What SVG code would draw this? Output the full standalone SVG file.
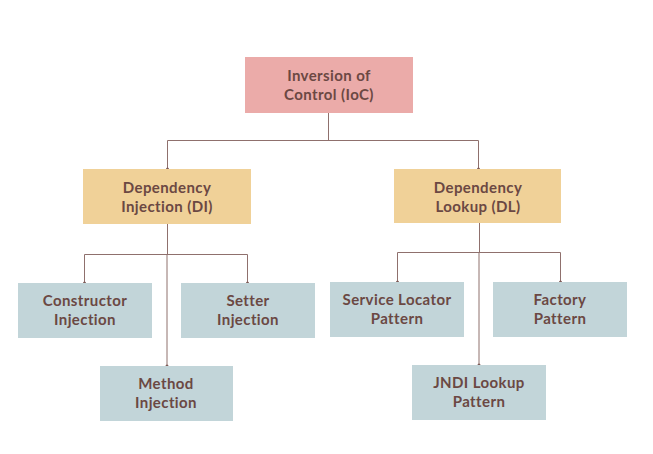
<svg xmlns="http://www.w3.org/2000/svg" width="653" height="454" viewBox="0 0 653 454">
<defs>
<marker id="dot" viewBox="0 0 4 4" refX="2" refY="2" markerWidth="4" markerHeight="4" markerUnits="userSpaceOnUse"><circle cx="2" cy="2" r="1.5" fill="#7d5a56"/></marker>
<style>
.lbl{font-family:Lato,"Open Sans",sans-serif;font-weight:bold;font-size:15px;letter-spacing:0.4px;fill:#6b4843;text-anchor:middle}
.root{fill:#ebaba9}
.mid{fill:#f0d198}
.leaf{fill:#c2d5d9}
.con{fill:none;stroke:#8f706d;stroke-width:1;marker-end:url(#dot)}
.seg{fill:none;stroke:#8f706d;stroke-width:1}
</style>
</defs>
<rect width="653" height="454" fill="#ffffff"/>
<g id="connectors">
<path class="seg" d="M328.5 113V140.5M167.5 140.5H478.5"/>
<path class="con" d="M167.5 140.5V169"/>
<path class="con" d="M478.5 140.5V169"/>
<path class="seg" d="M167.5 224V254.5M84.5 254.5H247.5"/>
<path class="con" d="M84.5 254.5V283"/>
<path class="con" d="M247.5 254.5V283"/>
<path class="con" d="M167 254.5V366"/>
<path class="seg" d="M479.5 223V252.5M397.5 252.5H560.5"/>
<path class="con" d="M397.5 252.5V282"/>
<path class="con" d="M560.5 252.5V282"/>
<path class="con" d="M479 252.5V365"/>
</g>
<g id="ioc"><rect class="root" x="245" y="57" width="168" height="56"/><text class="lbl" x="329" y="81">Inversion of</text><text class="lbl" x="329" y="100">Control (IoC)</text></g>
<g id="di"><rect class="mid" x="83" y="169" width="168" height="55"/><text class="lbl" x="167" y="193">Dependency</text><text class="lbl" x="167" y="212">Injection (DI)</text></g>
<g id="dl"><rect class="mid" x="394" y="169" width="167" height="54"/><text class="lbl" x="478" y="193">Dependency</text><text class="lbl" x="478" y="212">Lookup (DL)</text></g>
<g id="constructor"><rect class="leaf" x="18" y="283" width="134" height="55"/><text class="lbl" x="85" y="306">Constructor</text><text class="lbl" x="85" y="325">Injection</text></g>
<g id="setter"><rect class="leaf" x="181" y="283" width="134" height="55"/><text class="lbl" x="248" y="306">Setter</text><text class="lbl" x="248" y="325">Injection</text></g>
<g id="method"><rect class="leaf" x="100" y="366" width="133" height="55"/><text class="lbl" x="166" y="389">Method</text><text class="lbl" x="166" y="408">Injection</text></g>
<g id="servicelocator"><rect class="leaf" x="330" y="282" width="134" height="55"/><text class="lbl" x="397" y="305">Service Locator</text><text class="lbl" x="397" y="324">Pattern</text></g>
<g id="factory"><rect class="leaf" x="493" y="282" width="134" height="55"/><text class="lbl" x="560" y="305">Factory</text><text class="lbl" x="560" y="324">Pattern</text></g>
<g id="jndi"><rect class="leaf" x="412" y="365" width="134" height="55"/><text class="lbl" x="479" y="388">JNDI Lookup</text><text class="lbl" x="479" y="407">Pattern</text></g>
</svg>
